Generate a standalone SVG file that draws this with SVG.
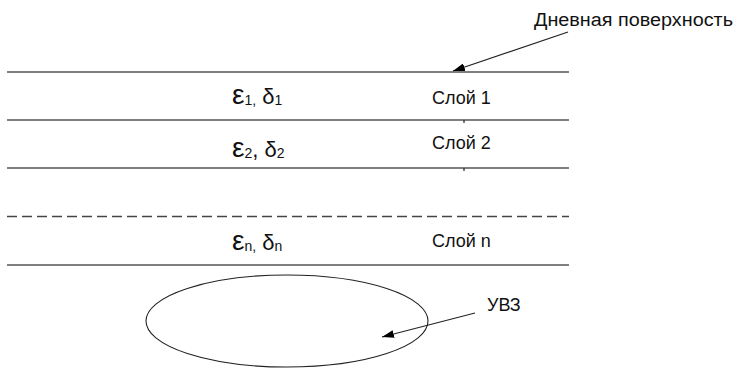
<svg xmlns="http://www.w3.org/2000/svg" width="736" height="369" viewBox="0 0 736 369">
<defs>
<style>
.layer{stroke:#555;stroke-width:1.6;fill:none}
.dash{stroke:#444;stroke-width:1.4;stroke-dasharray:10,5;fill:none}
.t{font-family:"Liberation Sans",Arial,sans-serif;font-size:18px;fill:#111}
.sym{font-family:"Liberation Sans",Arial,sans-serif;font-size:22px;fill:#111}
.conn{stroke:#222;stroke-width:1.2;fill:none}
</style>
<marker id="ah" viewBox="0 0 12 8" refX="12" refY="4" markerWidth="12" markerHeight="8" markerUnits="userSpaceOnUse" orient="auto">
<path d="M0,0 L12,4 L0,8 z" fill="#000"/>
</marker>
</defs>
<rect width="736" height="369" fill="#fff"/>
<g id="layers">
<line class="layer" x1="7" y1="72" x2="569" y2="72"/>
<line class="layer" x1="7" y1="120" x2="569" y2="120"/>
<line class="layer" x1="7" y1="168" x2="569" y2="168"/>
<line class="dash" x1="7" y1="216.5" x2="569" y2="216.5"/>
<line class="layer" x1="7" y1="265" x2="569" y2="265"/>
<line stroke="#222" stroke-width="1.2" x1="464" y1="120" x2="464" y2="123"/>
<line stroke="#222" stroke-width="1.2" x1="464" y1="168" x2="464" y2="171"/>
</g>
<g id="layer1">
<text class="sym" x="232" y="104"><tspan font-size="28">ε</tspan><tspan font-size="14" dy="1">1,</tspan><tspan dy="-1"> δ</tspan><tspan font-size="14" dy="1">1</tspan></text>
<text class="t" x="432" y="104">Слой 1</text>
</g>
<g id="layer2">
<text class="sym" x="232" y="157"><tspan font-size="28">ε</tspan><tspan font-size="14" dy="1">2</tspan><tspan dy="-1">, δ</tspan><tspan font-size="14" dy="1">2</tspan></text>
<text class="t" x="432" y="149">Слой 2</text>
</g>
<g id="layern">
<text class="sym" x="232" y="250"><tspan font-size="28">ε</tspan><tspan font-size="14" dy="1">n,</tspan><tspan dy="-1"> δ</tspan><tspan font-size="14" dy="1">n</tspan></text>
<text class="t" x="432" y="247">Слой n</text>
</g>
<g id="surface-label">
<text class="t" x="534" y="26" textLength="199" lengthAdjust="spacingAndGlyphs">Дневная поверхность</text>
</g>
<g id="uvz">
<ellipse cx="287" cy="321" rx="141" ry="46" fill="none" stroke="#222" stroke-width="1.1"/>
<text class="t" x="487" y="311">УВЗ</text>
</g>
<g id="connectors">
<line class="conn" x1="568" y1="32" x2="453" y2="71" marker-end="url(#ah)"/>
<line class="conn" x1="475" y1="313" x2="382" y2="337" marker-end="url(#ah)"/>
</g>
</svg>
